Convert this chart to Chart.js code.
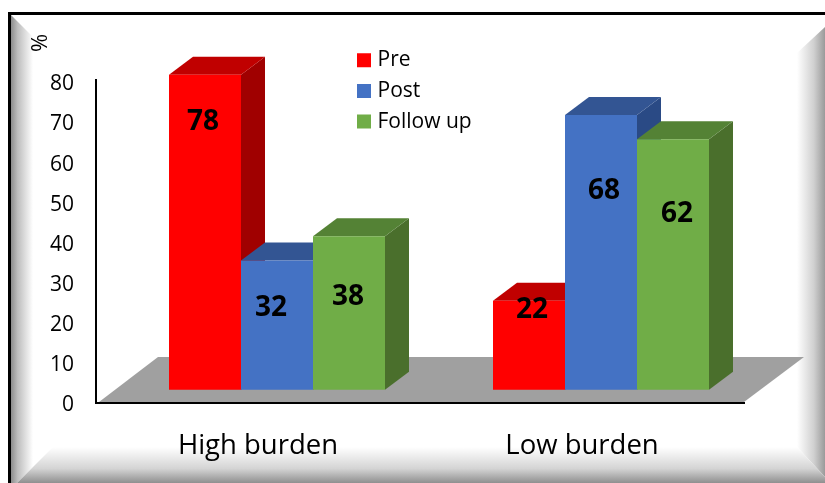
<!DOCTYPE html>
<html><head><meta charset="utf-8">
<style>html,body{margin:0;padding:0;background:#fff}#w{width:825px;height:483px;position:relative}canvas{display:block}</style>
<script src="https://cdn.jsdelivr.net/npm/chart.js@4/dist/chart.umd.js"></script>
</head><body><div id="w"><canvas id="c" width="825" height="483"></canvas></div>
<script>
const categories = ['High burden', 'Low burden'];
const pre = [78, 22];
const post = [32, 68];
const followUp = [38, 62];
const seriesNames = ['Pre', 'Post', 'Follow up'];
const yTickMax = 80;
const axisLabel = '%';

const FONT = '"Open Sans", Lato, sans-serif';
const front = ['#FF0000', '#4472C4', '#70AD47'];
const topFace = ['#C00000', '#335593', '#548235'];
const sideFace = ['#A00000', '#2A4A85', '#4A6F2C'];
const depthX = 24, depthY = 18, shiftX = 19;
// label placement relative to the bar's top centre, per series / category
const labelDX = [[-2, 3], [-6, 3], [-1, 4]];
const labelDY = [[47, 9], [48, 76], [61, 75]];

function hGrad(ctx, x0, x1, stops) { const g = ctx.createLinearGradient(x0, 0, x1, 0); stops.forEach(s => g.addColorStop(s[0], s[1])); return g; }
function vGrad(ctx, y0, y1, stops) { const g = ctx.createLinearGradient(0, y0, 0, y1); stops.forEach(s => g.addColorStop(s[0], s[1])); return g; }
function poly(ctx, pts, fill) { ctx.beginPath(); pts.forEach((p, i) => i ? ctx.lineTo(p[0], p[1]) : ctx.moveTo(p[0], p[1])); ctx.closePath(); ctx.fillStyle = fill; ctx.fill(); }

const framePlugin = {
  id: 'frame',
  beforeDraw(chart) {
    const ctx = chart.ctx, W = chart.width, H = chart.height;
    ctx.save();
    ctx.fillStyle = '#fff'; ctx.fillRect(0, 0, W, H);
    poly(ctx, [[11, 15], [33, 37], [33, 467], [17, 483], [11, 483]],
      hGrad(ctx, 11, 33, [[0, '#8c8c8c'], [0.3, '#bdbdbd'], [1, '#ffffff']]));
    poly(ctx, [[825, 27], [797, 53], [797, 447], [825, 477]],
      hGrad(ctx, 797, 825, [[0, '#ffffff'], [0.6, '#d0d0d0'], [1, '#9a9a9a']]));
    poly(ctx, [[17, 483], [53, 447], [797, 447], [825, 477], [825, 483]],
      vGrad(ctx, 447, 483, [[0, '#ffffff'], [0.6, '#d4d4d4'], [1, '#8f8f8f']]));
    ctx.fillStyle = '#000';
    ctx.fillRect(8, 12, W - 8, 3);
    ctx.fillRect(8, 12, 3, H - 12);
    ctx.restore();
  },
  beforeDatasetsDraw(chart) {
    const ctx = chart.ctx, a = chart.chartArea;
    poly(ctx, [[a.left + 3, a.bottom - 1], [a.left + 62, 357], [a.right + 60, 357], [a.right, a.bottom - 1]], '#A0A0A0');
    ctx.save();
    ctx.translate(41, 43); ctx.rotate(-Math.PI / 2);
    ctx.font = '22px ' + FONT; ctx.fillStyle = '#000'; ctx.textAlign = 'center'; ctx.textBaseline = 'middle';
    ctx.fillText(axisLabel, 0, 0);
    ctx.restore();
    // side and top faces, painted from the first series to the last
    ctx.save();
    ctx.translate(shiftX, 0);
    chart.data.datasets.forEach((ds, i) => {
      chart.getDatasetMeta(i).data.forEach(b => {
        const l = b.x - b.width / 2, r = b.x + b.width / 2, t = b.y, bt = b.base;
        poly(ctx, [[r, t], [r + depthX, t - depthY], [r + depthX, bt - depthY], [r, bt]], sideFace[i]);
        poly(ctx, [[l, t], [l + depthX, t - depthY], [r + depthX, t - depthY], [r, t]], topFace[i]);
      });
    });
    ctx.restore();
  },
  beforeDatasetDraw(chart) {
    chart.ctx.save();
    chart.ctx.translate(shiftX, 0);
  },
  afterDatasetDraw(chart) { chart.ctx.restore(); },
  afterDatasetsDraw(chart) {
    const ctx = chart.ctx;
    ctx.save();
    ctx.font = 'bold 28px ' + FONT; ctx.fillStyle = '#000'; ctx.textAlign = 'center'; ctx.textBaseline = 'middle';
    chart.data.datasets.forEach((ds, i) => {
      chart.getDatasetMeta(i).data.forEach((b, j) => {
        ctx.fillText(String(ds.data[j]), b.x + shiftX + labelDX[i][j], b.y + labelDY[i][j]);
      });
    });
    ctx.restore();
  },
  afterLayout(chart) {
    const l = chart.legend;
    l.left = 351.3; l.top = 40; l.right = 560; l.bottom = 300;
  }
};

new Chart(document.getElementById('c'), {
  type: 'bar',
  plugins: [framePlugin],
  data: {
    labels: categories,
    datasets: [
      { label: seriesNames[0], data: pre, backgroundColor: front[0], yAxisID: 'yBars', clip: false },
      { label: seriesNames[1], data: post, backgroundColor: front[1], yAxisID: 'yBars', clip: false },
      { label: seriesNames[2], data: followUp, backgroundColor: front[2], yAxisID: 'yBars', clip: false }
    ]
  },
  options: {
    responsive: false,
    animation: false,
    layout: { padding: { left: 36, right: 81, top: 80, bottom: 0 } },
    datasets: { bar: { categoryPercentage: 2 / 3, barPercentage: 1 } },
    plugins: {
      tooltip: { enabled: false },
      legend: {
        position: 'chartArea', align: 'start',
        labels: {
          boxWidth: 6, boxHeight: 6, padding: 9.7, color: '#000', font: { family: FONT, size: 21 },
          generateLabels(chart) {
            return Chart.defaults.plugins.legend.labels.generateLabels(chart).map(it =>
              Object.assign(it, { strokeStyle: it.fillStyle, lineWidth: 8 }));
          }
        }
      }
    },
    scales: {
      x: {
        grid: { display: false, drawTicks: false },
        border: { color: '#000', width: 2 },
        ticks: { color: '#000', padding: 27, font: { family: FONT, size: 27.5 }, maxRotation: 0 },
        afterFit(s) { s.height = 80; }
      },
      y: {
        min: 0, max: yTickMax + 0.6,
        grid: { display: false, drawTicks: false },
        border: { color: '#000', width: 2 },
        ticks: { stepSize: 10, includeBounds: false, color: '#000', padding: 22, labelOffset: 2, font: { family: FONT, size: 21 } },
        afterFit(s) { s.width = 60; }
      },
      yBars: { display: false, min: -3.29, max: 76.69 }
    }
  }
});
</script></body></html>
